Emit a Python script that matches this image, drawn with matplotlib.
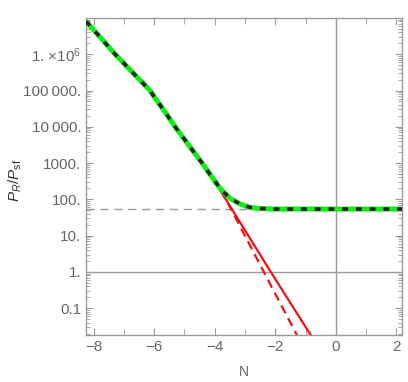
import matplotlib
matplotlib.use('Agg')
import matplotlib.pyplot as plt
import matplotlib.ticker as mticker
import numpy as np

plt.rcParams['font.family'] = ['Liberation Sans', 'DejaVu Sans']
plt.rcParams['mathtext.fontset'] = 'custom'
plt.rcParams['mathtext.rm'] = 'Liberation Sans'
plt.rcParams['mathtext.it'] = 'Liberation Sans:italic'

# full ratio (green, with black dotted overlay)
n_full = [-8.25, -7.29, -6.6, -6.14, -5.92, -5.7, -5.31, -4.42, -4.0, -3.8, -3.5, -3.17, -2.84, -2.5, -2.0, 2.2]
p_full = [8.1e6, 1.0e6, 2.5e5, 1.0e5, 5.4e4, 3.0e4, 1.0e4, 1.0e3, 3.2e2, 1.9e2, 1.07e2, 75.0, 60.0, 56.0, 54.0, 54.0]

# approximations (red solid, red dashed)
n_red = [-8.25, -7.29, -6.6, -6.14, -5.92, -5.7, -5.31, -4.42, -4.0, -2.15, -0.7]
p_red = [8.1e6, 1.0e6, 2.5e5, 1.0e5, 5.4e4, 3.0e4, 1.0e4, 1.0e3, 3.1e2, 1.0, 0.0122]
n_red2 = [-8.25, -7.29, -6.6, -6.14, -5.92, -5.7, -5.31, -4.42, -4.0, -3.63, -2.38, -1.2]
p_red2 = [8.1e6, 1.0e6, 2.5e5, 1.0e5, 5.4e4, 3.0e4, 1.0e4, 1.0e3, 3.1e2, 1.0e2, 1.0, 0.0132]

plateau = 54.0

ytick_vals = [0.1, 1, 10, 100, 1000, 1e4, 1e5, 1e6]
ytick_labels = ['0.1', '1.', '10.', '100.', '1000.', '10\u2009000.', '100\u2009000.', r'1. $\times$10$^6$']

gray = '#9a9a9a'
txt = '#666666'

fig = plt.figure(figsize=(4.08, 3.82), dpi=100)
ax = fig.add_axes([0.211, 0.123, 0.774, 0.830])

ax.set_yscale('log')
ax.set_xlim(-8.25, 2.18)
ax.set_ylim(0.0182, 1.0e7)

ax.axhline(1.0, color=gray, lw=1.0, zorder=1)
ax.axvline(0.0, color=gray, lw=1.0, zorder=1)
ax.axhline(plateau, color=gray, lw=1.0, ls=(0, (6, 4)), zorder=1)

ax.plot(n_red2, p_red2, color='#ee1111', lw=1.6, ls=(0, (4, 2.5)), zorder=2)
ax.plot(n_red, p_red, color='#ee1111', lw=1.6, zorder=2)
ax.plot(n_full, p_full, color='#11ee11', lw=3.6, zorder=3, solid_capstyle='butt')
ax.plot(n_full, p_full, color='#222222', lw=2.6, ls=(0, (1.6, 2.2)), zorder=4)

for s in ax.spines.values():
    s.set_color(gray)
    s.set_linewidth(1.0)

ax.xaxis.set_major_locator(mticker.FixedLocator([-8, -6, -4, -2, 0, 2]))
ax.xaxis.set_minor_locator(mticker.FixedLocator([-7, -5, -3, -1, 1]))
ax.xaxis.set_major_formatter(mticker.FixedFormatter(['\u22128', '\u22126', '\u22124', '\u22122', '0', '2']))
ax.yaxis.set_major_locator(mticker.FixedLocator(ytick_vals))
ax.yaxis.set_major_formatter(mticker.FixedFormatter(ytick_labels))
ax.yaxis.set_minor_locator(mticker.LogLocator(base=10, subs=np.arange(2, 10), numticks=30))
ax.yaxis.set_minor_formatter(mticker.NullFormatter())

ax.tick_params(which='both', direction='in', top=True, right=True, color=gray, labelcolor=txt, labelsize=11)
ax.tick_params(which='major', length=5, width=0.8)
ax.tick_params(which='minor', length=3, width=0.6)
ax.tick_params(axis='x', which='minor', length=4)

ax.set_xlabel('N', color=txt, fontsize=10, labelpad=8)
fig.text(15 / 408, 1 - 180 / 382, r'$P_R/P_{\rm sf}$', color='#333333', fontsize=11,
         rotation=90, ha='center', va='center')

fig.savefig('out.png', dpi=100)
